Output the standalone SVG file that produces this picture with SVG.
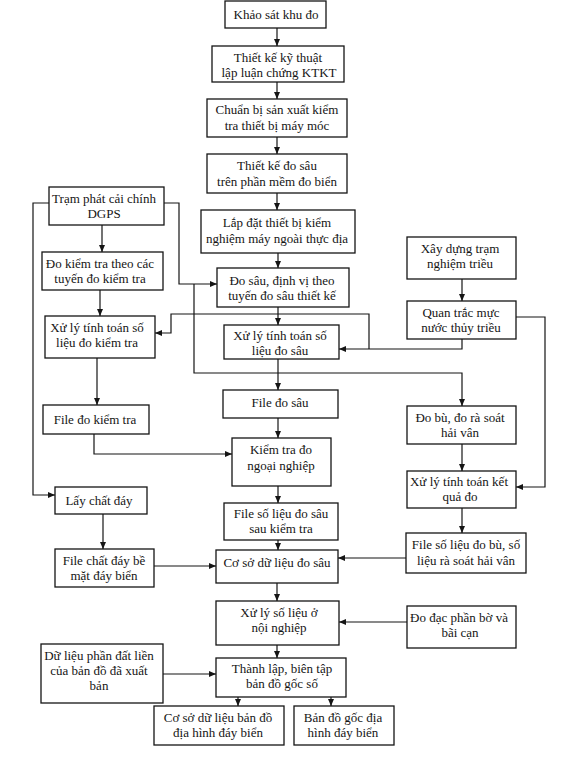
<svg xmlns="http://www.w3.org/2000/svg" width="570" height="767" viewBox="0 0 570 767">
<defs>
<style>
.b{fill:#fff;stroke:#151515;stroke-width:1.3}
.t{font-family:"Liberation Serif","Times New Roman",serif;font-size:13px;fill:#151515;text-anchor:middle}
.c{fill:none;stroke:#151515;stroke-width:1.2;marker-end:url(#ah)}
</style>
<marker id="ah" markerUnits="userSpaceOnUse" markerWidth="7" markerHeight="6" refX="7" refY="3" orient="auto">
<path d="M0,0 L7,3 L0,6 Z" fill="#151515"/>
</marker>
</defs>
<rect width="570" height="767" fill="#fff"/>
<g id="connectors">
<polyline class="c" points="277,28 277,46"/>
<polyline class="c" points="277,82 277,99"/>
<polyline class="c" points="277,137 277,154"/>
<polyline class="c" points="277,193 277,210"/>
<polyline class="c" points="278,253 278,268"/>
<polyline class="c" points="278,307 278,325"/>
<polyline class="c" points="278,359 278,390"/>
<polyline class="c" points="278,418 278,438"/>
<polyline class="c" points="278,486 278,503"/>
<polyline class="c" points="278,540 278,550"/>
<polyline class="c" points="277,583 277,601"/>
<polyline class="c" points="277,645 277,658"/>
<polyline class="c" points="238,697 238,706"/>
<polyline class="c" points="331,697 331,706"/>
<polyline class="c" points="102,225 102,252"/>
<polyline class="c" points="100,290 100,316"/>
<polyline class="c" points="97,358 97,405"/>
<polyline class="c" points="94,434 94,454 232,454"/>
<polyline class="c" points="49,203 33,203 33,495 55,495"/>
<polyline class="c" points="103,514 103,549"/>
<polyline class="c" points="154,566 216,566"/>
<polyline class="c" points="164,203 179,203 179,284 217,284"/>
<polyline class="c" points="194,284 194,373 462,373 462,406"/>
<polyline class="c" points="462,279 462,301"/>
<polyline class="c" points="462,339 462,349 339,349"/>
<polyline class="c" points="369,349 369,314 171,314 171,333 155,333"/>
<polyline class="c" points="516,317 545,317 545,487 516,487"/>
<polyline class="c" points="462,444 462,471"/>
<polyline class="c" points="462,508 462,533"/>
<polyline class="c" points="406,558 338,558"/>
<polyline class="c" points="407,622 339,622"/>
<polyline class="c" points="163,674 216,674"/>
</g>
<g id="n1"><rect class="b" x="225" y="1" width="101" height="27"/><text class="t" x="276" y="19">Khảo sát khu đo</text></g>
<g id="n2"><rect class="b" x="212" y="46" width="132" height="36"/><text class="t" x="278" y="62">Thiết kế kỹ thuật</text><text class="t" x="279" y="77">lập luận chứng KTKT</text></g>
<g id="n3"><rect class="b" x="207" y="99" width="140" height="38"/><text class="t" x="277" y="114">Chuẩn bị sản xuất kiểm</text><text class="t" x="277" y="130">tra thiết bị  máy móc</text></g>
<g id="n4"><rect class="b" x="207" y="154" width="140" height="39"/><text class="t" x="277" y="170">Thiết kế đo sâu</text><text class="t" x="277" y="186">trên phần mềm đo biển</text></g>
<g id="n5"><rect class="b" x="49" y="187" width="115" height="38"/><text class="t" x="104" y="203">Trạm phát cải chính</text><text class="t" x="104" y="218">DGPS</text></g>
<g id="n6"><rect class="b" x="42" y="252" width="121" height="38"/><text class="t" x="100" y="268">Đo kiểm tra theo các</text><text class="t" x="100" y="283">tuyến đo kiểm tra</text></g>
<g id="n7"><rect class="b" x="45" y="316" width="110" height="42"/><text class="t" x="97" y="332">Xử lý tính toán số</text><text class="t" x="97" y="347">liệu đo kiểm tra</text></g>
<g id="n8"><rect class="b" x="201" y="210" width="154" height="43"/><text class="t" x="277" y="227">Lắp đặt thiết bị kiểm</text><text class="t" x="277" y="243">nghiệm máy ngoài thực địa</text></g>
<g id="n9"><rect class="b" x="217" y="268" width="132" height="39"/><text class="t" x="282" y="285">Đo sâu, định vị theo</text><text class="t" x="282" y="300">tuyến đo sâu  thiết kế</text></g>
<g id="n10"><rect class="b" x="224" y="325" width="115" height="34"/><text class="t" x="280" y="340">Xử lý tính toán số</text><text class="t" x="280" y="355">liệu đo sâu</text></g>
<g id="n11"><rect class="b" x="407" y="237" width="109" height="42"/><text class="t" x="460" y="253">Xây dựng trạm</text><text class="t" x="460" y="268">nghiệm triều</text></g>
<g id="n12"><rect class="b" x="407" y="301" width="109" height="38"/><text class="t" x="461" y="317">Quan trắc mực</text><text class="t" x="461" y="332">nước thủy triều</text></g>
<g id="n13"><rect class="b" x="43" y="405" width="106" height="29"/><text class="t" x="95" y="424">File đo kiểm tra</text></g>
<g id="n14"><rect class="b" x="55" y="487" width="92" height="27"/><text class="t" x="99" y="505">Lấy chất đáy</text></g>
<g id="n15"><rect class="b" x="55" y="549" width="99" height="38"/><text class="t" x="104" y="565">File chất đáy bề</text><text class="t" x="104" y="580">mặt đáy biển</text></g>
<g id="n16"><rect class="b" x="223" y="390" width="115" height="28"/><text class="t" x="280" y="407">File đo sâu</text></g>
<g id="n17"><rect class="b" x="232" y="438" width="99" height="48"/><text class="t" x="281" y="454">Kiểm tra đo</text><text class="t" x="281" y="470">ngoại nghiệp</text></g>
<g id="n18"><rect class="b" x="224" y="503" width="114" height="37"/><text class="t" x="281" y="518">File số liệu đo sâu</text><text class="t" x="281" y="533">sau kiểm tra</text></g>
<g id="n19"><rect class="b" x="216" y="550" width="122" height="33"/><text class="t" x="277" y="567">Cơ sở dữ liệu đo sâu</text></g>
<g id="n20"><rect class="b" x="407" y="406" width="109" height="38"/><text class="t" x="460" y="422">Đo bù, đo rà soát</text><text class="t" x="460" y="437">hải vân</text></g>
<g id="n21"><rect class="b" x="407" y="471" width="109" height="37"/><text class="t" x="459" y="486">Xử lý tính toán kết</text><text class="t" x="460" y="501">quả đo</text></g>
<g id="n22"><rect class="b" x="406" y="533" width="120" height="40"/><text class="t" x="466" y="549">File số liệu đo bù, số</text><text class="t" x="466" y="565">liệu rà soát hải vân</text></g>
<g id="n23"><rect class="b" x="216" y="601" width="123" height="44"/><text class="t" x="279" y="617">Xử lý số liệu ở</text><text class="t" x="279" y="632">nội nghiệp</text></g>
<g id="n24"><rect class="b" x="216" y="658" width="130" height="39"/><text class="t" x="282" y="673">Thành lập, biên tập</text><text class="t" x="282" y="688">bản đồ gốc số</text></g>
<g id="n25"><rect class="b" x="41" y="644" width="122" height="59"/><text class="t" x="99" y="660">Dữ liệu phần đất liền</text><text class="t" x="99" y="675">của bản đồ đã xuất</text><text class="t" x="99" y="690">bản</text></g>
<g id="n26"><rect class="b" x="154" y="706" width="130" height="39"/><text class="t" x="218" y="722">Cơ sở dữ liệu bản đồ</text><text class="t" x="218" y="737">địa hình đáy biển</text></g>
<g id="n27"><rect class="b" x="294" y="706" width="100" height="39"/><text class="t" x="343" y="722">Bản đồ gốc địa</text><text class="t" x="343" y="737">hình đáy biển</text></g>
<g id="n28"><rect class="b" x="407" y="606" width="109" height="42"/><text class="t" x="459" y="622">Đo đạc phần bờ và</text><text class="t" x="460" y="637">bãi cạn</text></g>
</svg>
